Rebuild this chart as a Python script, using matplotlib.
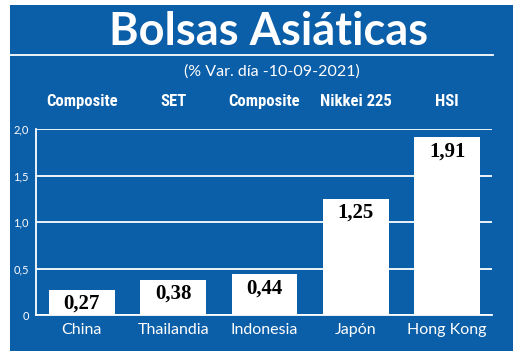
import matplotlib
matplotlib.use("Agg")
import matplotlib.pyplot as plt
from matplotlib.patches import Rectangle
from matplotlib.lines import Line2D

countries = ["China", "Thailandia", "Indonesia", "Japón", "Hong Kong"]
indices = ["Composite", "SET", "Composite", "Nikkei 225", "HSI"]
values = [0.27, 0.38, 0.44, 1.25, 1.91]
yticks = [0, 0.5, 1.0, 1.5, 2.0]
ytick_labels = ["0", "0,5", "1,0", "1,5", "2,0"]
title = "Bolsas Asiáticas"
subtitle = "(% Var. día -10-09-2021)"

BLUE = "#0B5EA8"
W, H = 520, 354
fig = plt.figure(figsize=(W / 100, H / 100), dpi=100)
fig.patch.set_facecolor("white")

# blue panel
fig.add_artist(Rectangle((10 / W, 1 - 351 / H), 503 / W, 346 / H,
                         transform=fig.transFigure, facecolor=BLUE,
                         edgecolor="none", zorder=0))
# line under title
fig.add_artist(Line2D([10 / W, 493 / W], [1 - 55 / H, 1 - 55 / H],
                      transform=fig.transFigure, color="white", lw=1.3))

fig.text(269 / W, 1 - 32 / H, title, ha="center", va="center",
         color="white", fontsize=32.5, fontweight="bold", family="Lato")
fig.text(272 / W, 1 - 72 / H, subtitle, ha="center", va="center",
         color="white", fontsize=11.5, family="Lato")

ax = fig.add_axes([36 / W, 1 - 315 / H, (492 - 36) / W, (315 - 129) / H])
ax.set_facecolor("none")
x = list(range(len(values)))
ax.bar(x, values, width=0.72, color="white", zorder=3)
ax.set_xlim(-0.5, 4.49)
ax.set_ylim(0, 2.0)
ax.set_yticks(yticks)
ax.set_yticklabels(ytick_labels, color="white", fontsize=8, family="Lato")
ax.tick_params(axis="y", length=0, pad=5)
ax.tick_params(axis="x", length=0, pad=6)
ax.set_xticks(x)
ax.set_xticklabels(countries, color="white", fontsize=11.5, family="Lato")
for s in ["top", "right"]:
    ax.spines[s].set_visible(False)
for s in ["left", "bottom"]:
    ax.spines[s].set_color("white")
    ax.spines[s].set_linewidth(1.3)
ax.yaxis.grid(True, color="white", lw=1.3, zorder=1)
ax.set_axisbelow(True)

for xi, v in zip(x, values):
    ax.annotate(f"{v:.2f}".replace(".", ","), (xi, v), xytext=(0, -3),
                textcoords="offset points", ha="center", va="top",
                fontsize=15, fontweight="bold", color="black",
                family="Liberation Serif", zorder=4)

# index names above the plot
cond = ["Roboto Condensed", "Open Sans Condensed", "Liberation Sans Narrow",
        "Lato"]
for xi, name in zip(x, indices):
    ax.text(xi, 1 + 27 / 186, name, transform=ax.get_xaxis_transform(),
            ha="center", va="center", color="white", fontsize=12,
            fontweight="bold", family=cond)

fig.savefig("out.png", dpi=100)
